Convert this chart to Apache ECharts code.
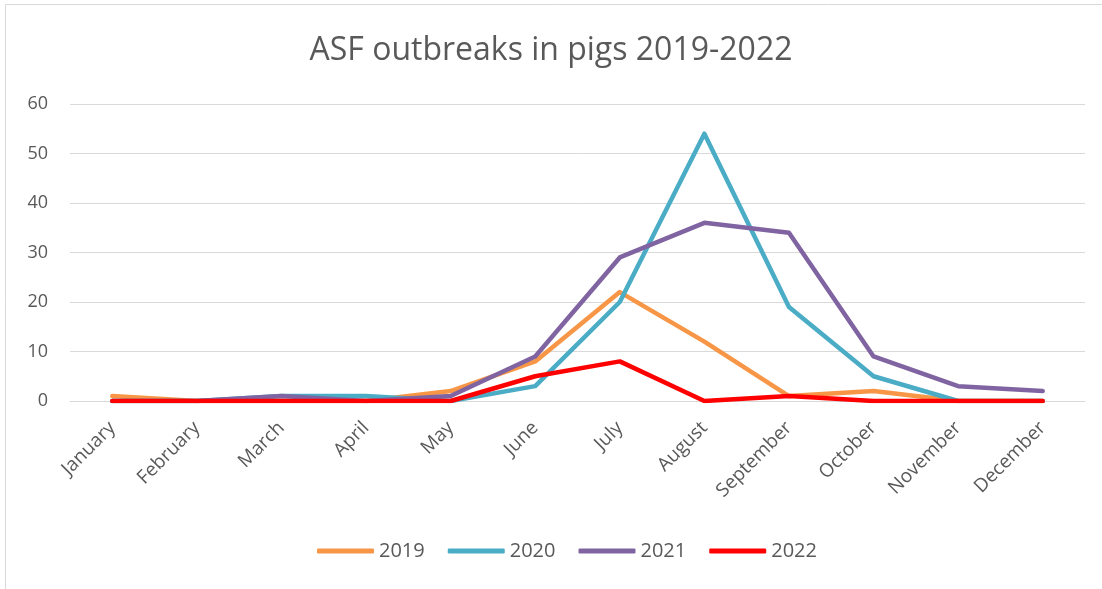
<!DOCTYPE html>
<html>
<head>
<meta charset="utf-8">
<script src="https://cdn.jsdelivr.net/npm/echarts@6/dist/echarts.min.js"></script>
<style>html,body{margin:0;padding:0;background:#fff}#c{width:1102px;height:589px}</style>
</head>
<body>
<div id="c"></div>
<script>
const categories = ['January','February','March','April','May','June','July','August','September','October','November','December'];
const y2019 = [1, 0, 0, 0, 2, 8, 22, 12, 1, 2, 0, 0];
const y2020 = [0, 0, 1, 1, 0, 3, 20, 54, 19, 5, 0, 0];
const y2021 = [0, 0, 1, 0, 1, 9, 29, 36, 34, 9, 3, 2];
const y2022 = [0, 0, 0, 0, 0, 5, 8, 0, 1, 0, 0, 0];
const seriesNames = ['2019','2020','2021','2022'];
const colors = ['#F79646','#4BACC6','#8064A2','#FF0000'];
const yTicks = {min: 0, max: 60, interval: 10};

const FONT = '"Open Sans", "Noto Sans", sans-serif';
const chart = echarts.init(document.getElementById('c'));
const data = [y2019, y2020, y2021, y2022];
chart.setOption({
  animation: false,
  color: colors,
  graphic: [{
    type: 'rect', left: 5, top: 4, z: -1,
    shape: {width: 1200, height: 700},
    style: {fill: '#fff', stroke: '#d9d9d9', lineWidth: 1}
  }],
  title: {
    text: 'ASF outbreaks in pigs 2019-2022',
    left: 'center', top: 30,
    textStyle: {fontFamily: FONT, fontWeight: 'normal', fontSize: 32, color: '#595959'}
  },
  grid: {left: 70, right: 17, top: 104, bottom: 188, containLabel: false},
  legend: {
    top: 536, left: 312,
    itemWidth: 57, itemHeight: 5, itemGap: 23,
    icon: 'roundRect',
    textStyle: {fontFamily: FONT, fontSize: 20, color: '#595959'},
    data: seriesNames
  },
  xAxis: {
    type: 'category', data: categories, boundaryGap: true,
    axisLine: {show: true, lineStyle: {color: '#d9d9d9', width: 1}},
    axisTick: {show: false},
    axisLabel: {rotate: 45, interval: 0, margin: 24, fontFamily: FONT, fontSize: 19, color: '#595959'}
  },
  yAxis: {
    type: 'value', min: yTicks.min, max: yTicks.max, interval: yTicks.interval,
    axisLine: {show: false}, axisTick: {show: false},
    splitLine: {lineStyle: {color: '#d9d9d9', width: 1}},
    axisLabel: {margin: 22, fontFamily: FONT, fontSize: 18, color: '#595959'}
  },
  series: seriesNames.map((n, i) => ({
    name: n, type: 'line', data: data[i],
    showSymbol: false, symbol: 'none',
    lineStyle: {width: 4.5, color: colors[i], cap: 'round', join: 'round'},
    itemStyle: {color: colors[i]}
  }))
});
</script>
</body>
</html>
